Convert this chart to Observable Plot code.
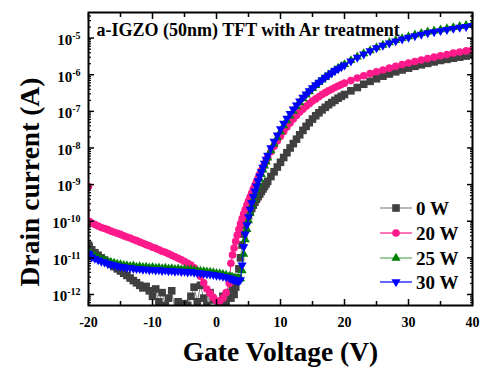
<!DOCTYPE html>
<html><head><meta charset="utf-8">
<script src="https://cdn.jsdelivr.net/npm/d3@7"></script>
<script src="https://cdn.jsdelivr.net/npm/@observablehq/plot@0.6"></script>
<style>
html,body{margin:0;padding:0;background:#fff;}
#chart{width:481px;height:367px;overflow:hidden;}
</style></head><body><div id="chart"></div>
<script>
// Gate voltage sweep (V)
const gateVoltage = [-20,-19.9,-19.5,-19,-18.5,-18,-17.5,-17,-16.5,-16,-15.5,-15,-14.5,-14,-13.5,-13,-12.5,-12,-11.5,-11,-10.5,-10,-9.5,-9,-8.5,-8,-7.5,-7,-6.5,-6,-5.5,-5,-4.5,-4,-3.5,-3,-2.5,-2,-1.5,-1,-0.5,0,0.5,1,1.5,2,
2.25,2.5,2.75,3,3.25,3.5,3.75,4,4.25,4.5,4.75,5,5.25,5.5,5.75,6,6.25,6.5,6.75,7,7.25,7.5,7.75,8,
8.5,9,9.5,10,10.5,11,11.5,12,12.5,13,13.5,14,14.5,15,15.5,16,16.5,17,17.5,18,18.5,19,19.5,20,
21,22,23,24,25,26,27,28,29,30,31,32,33,34,35,36,37,38,39,40];

// Drain current as log10(I / A)
const log10I_0W = [-10.65,-10.7,-10.78,-10.86,-10.93,-11.0,-11.06,-11.12,-11.18,-11.24,-11.3,-11.36,-11.42,-11.48,-11.55,-11.62,-11.68,-11.75,-11.82,-11.78,-11.9,-12.05,-11.85,-12.2,-11.95,-12.3,-12.1,-11.9,-12.4,-12.2,-12.5,-12.25,-12.3,-12.05,-11.8,-12.2,-11.75,-12.1,-12.3,-11.95,-12.15,-12.4,-12.25,-12.05,-12.2,-11.95,
-12.1,-11.85,-12.0,-11.8,-11.55,-11.3,-11.0,-10.65,-10.35,-10.12,-9.97,-9.85,-9.75,-9.65,-9.56,-9.48,-9.4,-9.33,-9.26,-9.19,-9.12,-9.05,-8.98,-8.91,
-8.78,-8.65,-8.52,-8.39,-8.26,-8.13,-8.0,-7.88,-7.76,-7.64,-7.52,-7.41,-7.31,-7.21,-7.12,-7.04,-6.96,-6.89,-6.82,-6.76,-6.7,-6.64,-6.59,-6.54,
-6.44,-6.35,-6.26,-6.18,-6.11,-6.04,-5.98,-5.92,-5.87,-5.82,-5.77,-5.73,-5.69,-5.65,-5.61,-5.58,-5.55,-5.52,-5.49,-5.46];

const log10I_20W = [-9.05,-10.0,-10.05,-10.09,-10.13,-10.17,-10.2,-10.23,-10.27,-10.3,-10.33,-10.36,-10.4,-10.43,-10.46,-10.5,-10.53,-10.57,-10.6,-10.64,-10.67,-10.71,-10.74,-10.78,-10.82,-10.85,-10.89,-10.93,-10.97,-11.01,-11.05,-11.1,-11.15,-11.2,-11.27,-11.36,-11.5,-11.68,-11.85,-11.97,-12.08,-12.17,-12.18,-12.1,-11.95,-11.7,
-11.15,-10.92,-10.73,-10.55,-10.38,-10.22,-10.07,-9.93,-9.8,-9.68,-9.56,-9.45,-9.34,-9.23,-9.12,-9.02,-8.92,-8.82,-8.72,-8.62,-8.53,-8.44,-8.35,-8.26,
-8.1,-7.95,-7.81,-7.68,-7.55,-7.43,-7.32,-7.21,-7.11,-7.02,-6.94,-6.86,-6.79,-6.72,-6.66,-6.6,-6.54,-6.49,-6.44,-6.4,-6.35,-6.31,-6.27,-6.23,
-6.16,-6.09,-6.03,-5.97,-5.92,-5.87,-5.82,-5.77,-5.72,-5.68,-5.64,-5.6,-5.56,-5.52,-5.48,-5.45,-5.41,-5.38,-5.35,-5.32];

const log10I_25W = [-10.82,-10.86,-10.9,-10.96,-11.0,-11.03,-11.06,-11.1,-11.12,-11.14,-11.17,-11.18,-11.2,-11.21,-11.23,-11.22,-11.25,-11.24,-11.26,-11.25,-11.27,-11.26,-11.28,-11.27,-11.29,-11.28,-11.3,-11.29,-11.31,-11.3,-11.32,-11.31,-11.33,-11.32,-11.34,-11.35,-11.36,-11.37,-11.38,-11.39,-11.4,-11.42,-11.43,-11.45,-11.47,-11.5,
-11.52,-11.53,-11.55,-11.56,-11.57,-11.58,-11.57,-11.35,-10.9,-10.5,-10.22,-9.98,-9.77,-9.58,-9.41,-9.26,-9.12,-8.98,-8.85,-8.72,-8.6,-8.49,-8.38,-8.27,
-8.07,-7.89,-7.72,-7.55,-7.39,-7.25,-7.12,-6.99,-6.87,-6.76,-6.65,-6.55,-6.46,-6.37,-6.29,-6.21,-6.14,-6.07,-6.0,-5.94,-5.88,-5.82,-5.77,-5.72,
-5.61,-5.51,-5.42,-5.34,-5.26,-5.19,-5.12,-5.06,-5.01,-4.96,-4.91,-4.87,-4.83,-4.8,-4.77,-4.74,-4.71,-4.68,-4.65,-4.62];

const log10I_30W = [-10.88,-10.92,-10.98,-11.02,-11.06,-11.1,-11.12,-11.16,-11.18,-11.2,-11.22,-11.24,-11.25,-11.27,-11.27,-11.29,-11.3,-11.3,-11.32,-11.31,-11.33,-11.32,-11.34,-11.33,-11.35,-11.34,-11.36,-11.35,-11.37,-11.36,-11.38,-11.37,-11.39,-11.38,-11.4,-11.41,-11.42,-11.43,-11.44,-11.45,-11.46,-11.48,-11.49,-11.51,-11.53,-11.55,
-11.57,-11.58,-11.6,-11.61,-11.62,-11.63,-11.6,-11.2,-10.7,-10.35,-10.1,-9.88,-9.68,-9.5,-9.33,-9.18,-9.04,-8.9,-8.77,-8.65,-8.53,-8.42,-8.31,-8.2,
-8.0,-7.82,-7.65,-7.48,-7.33,-7.19,-7.06,-6.94,-6.83,-6.72,-6.62,-6.53,-6.44,-6.36,-6.28,-6.21,-6.14,-6.07,-6.01,-5.95,-5.89,-5.84,-5.79,-5.74,
-5.63,-5.53,-5.44,-5.35,-5.27,-5.2,-5.14,-5.08,-5.03,-4.98,-4.94,-4.9,-4.86,-4.83,-4.8,-4.77,-4.74,-4.71,-4.69,-4.66];

const seriesNames = ["0 W", "20 W", "25 W", "30 W"];
const markerColors = ["#404040", "#ff1a8c", "#008000", "#0000ff"];
const lineColors = ["#8a8a8a", "#ff1a8c", "#5aaa5a", "#0000ff"];
const markerSymbols = ["square", "circle", "triangle", "triangle"];
const markerRotate = [0, 0, 0, 180];
const markerRadius = [4.3, 3.8, 3.4, 3.4];

const xMajor = [-20, -10, 0, 10, 20, 30, 40];
const xMinor = [-15, -5, 5, 15, 25, 35];
const yMajor = [1e-12, 1e-11, 1e-10, 1e-9, 1e-8, 1e-7, 1e-6, 1e-5];
const yMinor = [];
for (let e = -13; e <= -5; e++) for (let m = 2; m <= 9; m++) { const v = m * Math.pow(10, e); if (v > 5e-13 && v < 5e-5) yMinor.push(v); }

const allLogs = [log10I_0W, log10I_20W, log10I_25W, log10I_30W];
allLogs.forEach((a, i) => { if (a.length !== gateVoltage.length) throw new Error("length mismatch " + seriesNames[i] + " " + a.length + " vs " + gateVoltage.length); });

const tables = allLogs.map((logs, i) => gateVoltage.map((v, j) => ({ V: v, I: Math.pow(10, logs[j]), series: seriesNames[i] })));

const FONT = "Liberation Serif, Times New Roman, serif";

const marks = [];
tables.forEach((t, i) => {
  marks.push(Plot.line(t, { x: "V", y: "I", stroke: lineColors[i], strokeWidth: 1, clip: true }));
  marks.push(Plot.dot(t, { x: "V", y: "I", symbol: markerSymbols[i], rotate: markerRotate[i], r: markerRadius[i], fill: markerColors[i], stroke: "none", clip: true }));
});

const ticks = [
  Plot.axisX(xMajor, { anchor: "bottom", tickSize: -6, tickFormat: () => "", strokeWidth: 1.5 }),
  Plot.axisX(xMinor, { anchor: "bottom", tickSize: -4, tickFormat: () => "", strokeWidth: 1.5 }),
  Plot.axisX(xMajor, { anchor: "top", tickSize: -6, tickFormat: () => "", strokeWidth: 1.5 }),
  Plot.axisX(xMinor, { anchor: "top", tickSize: -4, tickFormat: () => "", strokeWidth: 1.5 }),
  Plot.axisY(yMajor, { anchor: "left", tickSize: -6, tickFormat: () => "", strokeWidth: 1.5 }),
  Plot.axisY(yMinor, { anchor: "left", tickSize: -3, tickFormat: () => "", strokeWidth: 1.2 }),
  Plot.axisY(yMajor, { anchor: "right", tickSize: -6, tickFormat: () => "", strokeWidth: 1.5 }),
  Plot.axisY(yMinor, { anchor: "right", tickSize: -3, tickFormat: () => "", strokeWidth: 1.2 }),
  Plot.axisX(xMajor, { anchor: "bottom", tickSize: 0, tickPadding: 12, tickFormat: d => String(d), fontSize: 14, fontWeight: "bold" }),
  Plot.text(yMajor, { y: d => d, frameAnchor: "left", text: d => "10^" + Math.round(Math.log10(d)), textAnchor: "end", dx: -8, dy: 2, fontSize: 15, fontWeight: "bold" }),
];

const texts = [
  Plot.text(["a-IGZO (50nm) TFT with Ar treatment"], { frameAnchor: "top-left", dx: 8, dy: 18, fontSize: 18, fontWeight: "bold", textAnchor: "start", lineAnchor: "middle" }),
  Plot.text(["Gate Voltage (V)"], { frameAnchor: "bottom", dy: 47, fontSize: 27.5, fontWeight: "bold", textAnchor: "middle", lineAnchor: "middle" }),
  Plot.text(["Drain current (A)"], { frameAnchor: "left", dx: -58, dy: 23, rotate: -90, fontSize: 27.5, fontWeight: "bold", textAnchor: "middle", lineAnchor: "middle" }),
];

const plot = Plot.plot({
  width: 481,
  height: 367,
  marginLeft: 88,
  marginRight: 9,
  marginTop: 12,
  marginBottom: 62,
  style: { fontFamily: FONT, fontWeight: "bold", background: "#fff", color: "#000" },
  x: { domain: [-20, 40], label: null, axis: null },
  y: { type: "log", domain: [5e-13, 5e-5], label: null, axis: null },
  marks: [
    ...marks,
    Plot.frame({ stroke: "#000", strokeWidth: 2 }),
    ...ticks,
    ...texts
  ]
});

document.getElementById("chart").appendChild(plot);

// drop the empty labels of tick-only axes; superscript exponents on y tick labels
d3.select(plot).selectAll("text").each(function () {
  const s = this.textContent;
  if (s === "") { this.remove(); return; }
  if (!/^10\^-?\d+$/.test(s)) return;
  const t = s.split("^");
  const sel = d3.select(this);
  sel.selectAll("*").remove();
  sel.text(t[0]);
  sel.append("tspan").attr("dy", -6).attr("font-size", 10).text(t[1]);
});

// legend (inside plot, lower right)
const lg = d3.select(plot).append("g").attr("font-family", FONT).attr("font-weight", "bold").attr("text-anchor", "start");
const rowY = [208, 233, 258, 282];
seriesNames.forEach((name, i) => {
  const g = lg.append("g").attr("transform", `translate(0,${rowY[i]})`);
  g.append("line").attr("x1", 380).attr("x2", 412).attr("y1", 0).attr("y2", 0).attr("stroke", lineColors[i]).attr("stroke-width", 1.2);
  const sym = d3.symbol().type(markerSymbols[i] === "square" ? d3.symbolSquare : markerSymbols[i] === "circle" ? d3.symbolCircle : d3.symbolTriangle).size(Math.PI * markerRadius[i] * markerRadius[i]);
  g.append("path").attr("d", sym()).attr("fill", markerColors[i]).attr("transform", `translate(396,0) rotate(${markerRotate[i]})`);
  g.append("text").attr("x", 416).attr("y", 0).attr("dy", "0.35em").attr("font-size", 19).attr("fill", "#000").attr("text-anchor", "start").text(name);
});
</script>
</body></html>
